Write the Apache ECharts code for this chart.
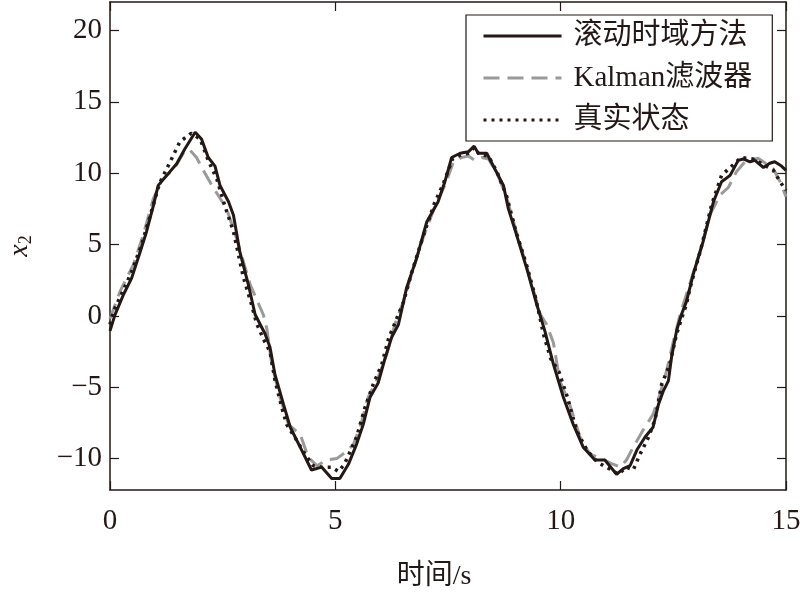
<!DOCTYPE html>
<html>
<head>
<meta charset="utf-8">
<script src="https://cdn.jsdelivr.net/npm/echarts@6/dist/echarts.min.js"></script>
<style>html,body{margin:0;padding:0;background:#fff}#c{width:800px;height:595px}</style>
</head>
<body>
<div id="c"></div>
<script>
var seriesNames = ['滚动时域方法', 'Kalman滤波器', '真实状态'];
var xTicks = [0, 5, 10, 15];
var yTicks = [-10, -5, 0, 5, 10, 15, 20];

var mheT = [0,0.11,0.3,0.48,0.67,0.81,0.96,1.07,1.26,1.48,1.66,1.89,2.03,2.18,2.33,2.44,2.63,2.74,2.88,3.07,3.22,3.44,3.55,3.66,3.85,4.0,4.22,4.47,4.70,4.92,5.10,5.29,5.47,5.62,5.77,5.95,6.10,6.25,6.40,6.58,6.80,7.03,7.28,7.43,7.58,7.77,7.95,8.08,8.17,8.36,8.54,8.73,8.84,9.02,9.25,9.47,9.65,9.84,10.06,10.28,10.5,10.76,10.98,11.24,11.39,11.54,11.69,11.87,12.05,12.17,12.28,12.39,12.46,12.57,12.68,12.79,12.94,13.16,13.39,13.57,13.76,13.94,14.05,14.2,14.31,14.5,14.64,14.75,14.9,15.0];
var mheY = [-1.05,0.07,1.5,2.65,4.5,5.9,7.7,9.15,9.85,10.66,11.7,12.87,12.4,11.1,10.5,9.15,8.0,7.06,4.5,2.2,0.1,-1.25,-2.2,-4.1,-6.2,-7.8,-9.2,-10.8,-10.6,-11.4,-11.4,-10.4,-9.0,-7.6,-5.7,-4.7,-3.0,-1.5,-0.6,1.95,4.0,6.6,8.0,9.4,11.1,11.4,11.5,11.9,11.4,11.4,10.3,9.15,7.5,5.7,3.3,0.8,-1.07,-3.4,-5.7,-7.6,-9.2,-10.1,-10.1,-11.1,-10.7,-10.5,-9.4,-8.5,-7.8,-6.2,-5.25,-4.55,-2.9,-1.07,0.1,1.0,2.9,5.2,8.0,9.4,9.85,10.9,11.0,10.8,10.9,10.4,10.7,10.8,10.5,10.2];

var kalT = [0,0.22,0.52,0.74,0.96,1.15,1.44,1.66,1.78,1.92,2.07,2.29,2.59,2.81,3.11,3.40,3.48,3.59,3.77,3.96,4.22,4.40,4.59,4.81,5.03,5.25,5.40,5.55,5.73,5.95,6.14,6.32,6.51,6.7,6.95,7.2,7.45,7.62,7.8,7.95,8.1,8.25,8.4,8.6,8.8,9.0,9.25,9.55,9.69,9.84,9.98,10.2,10.43,10.65,10.91,11.13,11.32,11.46,11.61,11.83,12.05,12.2,12.35,12.5,12.65,12.87,13.09,13.31,13.53,13.72,13.9,14.09,14.38,14.57,14.72,14.87,15.0];
var kalY = [-0.2,1.7,3.6,5.7,8.2,9.5,10.4,11.6,11.6,11.1,10.2,9.0,7.5,5.4,2.2,0.1,-0.9,-3.4,-5.7,-7.6,-8.3,-9.9,-10.5,-10.1,-10.0,-9.5,-9.0,-7.8,-5.7,-4.3,-2.7,-0.6,1.0,3.0,5.5,7.6,9.3,10.8,11.1,11.2,10.9,11.1,11.0,9.9,8.3,6.1,3.4,0.1,-0.6,-1.9,-4.55,-6.2,-8.5,-9.7,-10.0,-10.35,-10.6,-10.1,-9.2,-8.0,-6.9,-5.5,-3.85,-1.8,0.1,2.3,4.5,7.06,8.45,9.0,10.1,10.8,11.05,10.65,10.3,9.4,8.35];

var trueT = [0,0.07,0.25,0.48,0.7,0.88,1.1,1.35,1.55,1.8,2.0,2.18,2.37,2.55,2.74,2.96,3.14,3.25,3.40,3.55,3.66,3.81,3.92,4.1,4.33,4.51,4.7,4.92,5.07,5.2,5.33,5.47,5.66,5.84,6.03,6.18,6.36,6.51,6.7,6.95,7.2,7.4,7.6,7.8,7.95,8.08,8.2,8.4,8.6,8.8,9.0,9.25,9.45,9.62,9.78,9.96,10.15,10.35,10.58,10.8,10.95,11.13,11.28,11.46,11.61,11.76,11.95,12.1,12.24,12.42,12.57,12.68,12.79,12.87,13.12,13.35,13.57,13.83,14.0,14.27,14.5,14.72,14.87,15.0];
var trueY = [-0.6,0.3,1.5,3.1,5.0,6.9,9.3,10.9,12.2,12.8,12.4,10.9,9.6,7.7,5.9,2.7,0.8,-0.5,-1.6,-2.5,-4.5,-6.4,-7.6,-8.5,-9.7,-10.5,-10.6,-10.6,-10.9,-10.4,-9.5,-8.5,-6.4,-4.8,-3.4,-1.6,-0.2,0.95,3.1,5.6,7.9,9.3,11.0,11.3,11.4,11.8,11.3,11.2,10.0,8.4,6.0,3.5,1.2,-1.3,-3.0,-3.9,-5.7,-8.0,-9.4,-10.2,-10.5,-10.8,-11.1,-10.6,-10.8,-9.7,-8.5,-7.2,-4.8,-3.4,-1.3,-0.2,0.8,1.95,4.8,7.8,9.85,10.6,11.1,11.0,10.6,10.2,9.4,8.8];

function zip(t, y) { return t.map(function (v, i) { return [v, y[i]]; }); }

var numFont = '"Liberation Serif", "Noto Sans CJK SC", serif';
var cjkFont = '"Liberation Serif", "Noto Sans CJK SC", serif';
var axisCol = '#231815';

var chart = echarts.init(document.getElementById('c'));
chart.setOption({
  animation: false,
  backgroundColor: '#fff',
  grid: { left: 110, right: 14, top: 2, bottom: 105, containLabel: false, outerBoundsMode: 'none' },
  legend: {
    left: 466, top: 15, orient: 'vertical',
    padding: [6, 20, 6, 16],
    itemGap: 12,
    itemWidth: 78, itemHeight: 14,
    borderColor: axisCol, borderWidth: 1.2,
    backgroundColor: '#fff',
    itemStyle: { opacity: 0 },
    lineStyle: { width: 3 },
    textStyle: { fontFamily: cjkFont, fontSize: 29, lineHeight: 30, color: axisCol, padding: [0, 0, 0, 7] },
    data: seriesNames
  },
  xAxis: [{
    type: 'value', min: 0, max: 15,
    name: '时间/s', nameLocation: 'middle', nameGap: 73,
    nameTextStyle: { fontFamily: cjkFont, fontSize: 28, color: axisCol, padding: [0, 28, 0, 0] },
    axisLine: { onZero: false, lineStyle: { color: axisCol, width: 1.5 } },
    axisTick: { inside: true, length: 9, customValues: xTicks, lineStyle: { color: axisCol, width: 1.2 } },
    axisLabel: { customValues: xTicks, margin: 17, fontFamily: numFont, fontSize: 29, color: axisCol },
    splitLine: { show: false }
  }, {
    type: 'value', min: 0, max: 15, position: 'top',
    axisLine: { onZero: false, lineStyle: { color: axisCol, width: 1.5 } },
    axisTick: { inside: true, length: 9, customValues: xTicks, lineStyle: { color: axisCol, width: 1.2 } },
    axisLabel: { show: false }, splitLine: { show: false }
  }],
  yAxis: [{
    type: 'value', min: -12.2, max: 22,
    name: '{i|x}{s|2}', nameLocation: 'middle', nameGap: 75, nameRotate: 90,
    nameTextStyle: {
      rich: {
        i: { fontFamily: numFont, fontStyle: 'italic', fontSize: 28, color: axisCol },
        s: { fontFamily: numFont, fontSize: 18, color: axisCol, verticalAlign: 'bottom', padding: [12, 0, 0, 0] }
      }
    },
    axisLine: { onZero: false, lineStyle: { color: axisCol, width: 1.5 } },
    axisTick: { inside: true, length: 9, customValues: yTicks, lineStyle: { color: axisCol, width: 1.2 } },
    axisLabel: {
      customValues: yTicks, margin: 8, fontFamily: numFont, fontSize: 29, color: axisCol,
      formatter: function (v) { return v < 0 ? '\u2212' + Math.abs(v) : String(v); }
    },
    splitLine: { show: false }
  }, {
    type: 'value', min: -12.2, max: 22, position: 'right',
    axisLine: { onZero: false, lineStyle: { color: axisCol, width: 1.5 } },
    axisTick: { inside: true, length: 9, customValues: yTicks, lineStyle: { color: axisCol, width: 1.2 } },
    axisLabel: { show: false }, splitLine: { show: false }
  }],
  series: [{
    name: seriesNames[0], type: 'line', data: zip(mheT, mheY),
    showSymbol: false, symbol: 'none', z: 3,
    lineStyle: { color: '#231815', width: 3 }, itemStyle: { color: '#231815' }
  }, {
    name: seriesNames[1], type: 'line', data: zip(kalT, kalY),
    showSymbol: false, symbol: 'none', z: 2,
    lineStyle: { color: '#9a9a9a', width: 3, type: [16, 8] }, itemStyle: { color: '#9a9a9a' }
  }, {
    name: seriesNames[2], type: 'line', data: zip(trueT, trueY),
    showSymbol: false, symbol: 'none', z: 4,
    lineStyle: { color: '#231815', width: 3.5, type: [3, 5] }, itemStyle: { color: '#231815' }
  }]
});
</script>
</body>
</html>
